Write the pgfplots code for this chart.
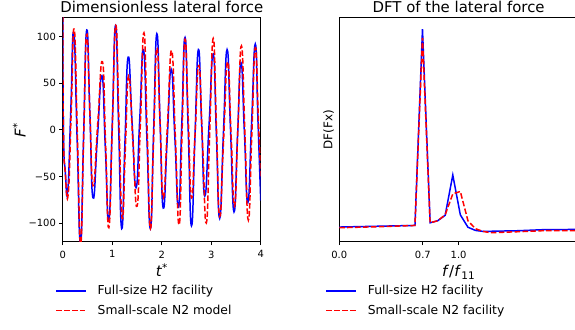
\documentclass[border=0pt]{standalone}
\usepackage{pgfplots}
\pgfplotsset{compat=1.18}
\usepackage{fontspec}
\setmainfont{DejaVu Sans}
\begin{document}
\pgfplotsset{
  mystyle/.style={
    scale only axis,
    anchor=south west,
    /pgf/number format/assume math mode=true,
    tick label style={font=\fontsize{10}{12}\selectfont},
    xticklabel style={yshift=-2pt},
    tick align=outside,
    major tick length=3.5pt,
    xtick pos=bottom, ytick pos=left,
    axis line style={line width=0.8pt, black},
    every tick/.style={black, line width=0.8pt},
    title style={font=\fontsize{15}{18}\selectfont, at={(0.5,1)}, anchor=base, yshift=-1pt},
    xlabel style={font=\fontsize{15}{18}\selectfont, at={(0.5,0)}, anchor=base, yshift=-35pt},
    legend cell align=left,
    legend image code/.code={\draw[##1] (0pt,0pt) -- (30pt,0pt);},
    legend style={draw=none, fill=none, inner sep=0pt, row sep=5pt,
      font=\fontsize{12.4}{14.5}\selectfont,
      /tikz/every odd column/.append style={column sep=8.9pt}},
  },
  blueline/.style={color=blue, line width=1.5pt},
  redline/.style={color=red, line width=1.5pt, dash pattern=on 5.55pt off 2.4pt},
}
\begin{tikzpicture}
\useasboundingbox (0,0) rectangle (575pt,331pt);
\begin{axis}[mystyle,
  at={(60pt,88pt)}, width=199pt, height=225pt,
  xmin=0, xmax=4, ymin=-120, ymax=120,
  xtick={0,1,2,3,4},
  ytick={-100,-50,0,50,100},
  yticklabels={−100,−50,0,50,100},
  title={Dimensionless lateral force},
  xlabel={\textit{t}\textsuperscript{*}},
  ylabel={\textit{F}\textsuperscript{*}},
  ylabel style={font=\fontsize{15}{18}\selectfont, at={(-0.1874,0.5)}, anchor=base, rotate=0},
  legend style={at={(-0.038,-0.186)}, anchor=north west},
]
\addplot[blueline, smooth, tension=0.9] coordinates {
(0,130) (0.012,0) (0.05,-45) (0.10,-65)
(0.16,19.5) (0.22,104) (0.288,-8) (0.356,-121) (0.42,-7) (0.483,107)
(0.547,17) (0.61,-73) (0.70,-7.5) (0.79,58) (0.86,-20.5) (0.93,-97)
(1.0,7.5) (1.067,112) (1.128,3) (1.19,-106) (1.255,-14) (1.32,78)
(1.40,8) (1.48,-62) (1.555,12) (1.63,86) (1.70,-10) (1.77,-106)
(1.835,-1.5) (1.90,103) (1.965,9.5) (2.03,-84) (2.11,-9.5) (2.19,65)
(2.265,-9) (2.34,-83) (2.405,8) (2.47,99) (2.535,-2) (2.60,-103)
(2.67,-8.5) (2.74,86) (2.805,7.5) (2.87,-71) (2.955,5) (3.04,81)
(3.105,-7) (3.17,-95) (3.245,-4.5) (3.32,86) (3.39,-1) (3.46,-88)
(3.53,-8) (3.60,72) (3.67,-3) (3.74,-78) (3.815,7) (3.89,92)
(3.945,8) (4.0,-76)
};
\addlegendentry{Full-size H2 facility}
\addplot[redline, smooth, tension=0.9] coordinates {
(0,130) (0.012,0) (0.05,-47) (0.11,-68)
(0.17,20) (0.23,108) (0.295,-7) (0.36,-122) (0.42,-10) (0.48,102)
(0.545,21) (0.61,-60) (0.705,6.5) (0.80,73) (0.865,-16) (0.93,-105)
(1.0,3.5) (1.07,112) (1.135,8.5) (1.20,-95) (1.265,-18.5) (1.33,58)
(1.415,-12) (1.50,-82) (1.57,11) (1.64,104) (1.705,-1) (1.77,-106)
(1.835,-9) (1.90,88) (1.965,7.5) (2.03,-73) (2.115,6) (2.20,85)
(2.275,-8.5) (2.35,-102) (2.41,-2.5) (2.47,97) (2.535,12) (2.60,-73)
(2.675,-2) (2.75,69) (2.825,-15.5) (2.90,-100) (2.97,-1) (3.04,98)
(3.105,2.5) (3.17,-93) (3.25,-10) (3.33,73) (3.40,-4.5) (3.47,-82)
(3.54,4) (3.61,90) (3.68,-3.5) (3.75,-97) (3.82,-4.5) (3.89,88)
(3.95,15) (4.0,-50)
};
\addlegendentry{Small-scale N2 model}
\end{axis}
\begin{axis}[mystyle,
  at={(338pt,88pt)}, width=240pt, height=225pt,
  xmin=0, xmax=2, ymin=0, ymax=225,
  xtick={0,0.7,1.0},
  xticklabels={0.0,0.7,1.0},
  ytick=\empty,
  title={DFT of the lateral force},
  xlabel={\textit{f}/\textit{f}\textsubscript{11}},
  ylabel={DF(Fx)},
  ylabel style={font=\fontsize{12}{14}\selectfont, at={(-0.029,0.5)}, anchor=base, rotate=0},
  legend style={at={(-0.058,-0.186)}, anchor=north west},
]
\addplot[blueline] coordinates {
(0,14.7) (0.317,15.5) (0.634,16.3) (0.697,213.7) (0.761,19) (0.824,21)
(0.887,26.5) (0.951,67) (1.014,27) (1.078,14.5) (1.141,11.3) (1.205,10.3)
(1.5,11) (1.7,12) (1.98,12.3)
};
\addlegendentry{Full-size H2 facility}
\addplot[redline] coordinates {
(0,14) (0.317,15) (0.634,16.3) (0.697,205) (0.761,19) (0.824,21)
(0.887,27) (0.951,48) (1.014,50.5) (1.078,21) (1.141,13) (1.205,10.3)
(1.268,9) (1.5,10) (1.7,11) (1.98,11)
};
\addlegendentry{Small-scale N2 facility}
\end{axis}
\end{tikzpicture}
\end{document}
